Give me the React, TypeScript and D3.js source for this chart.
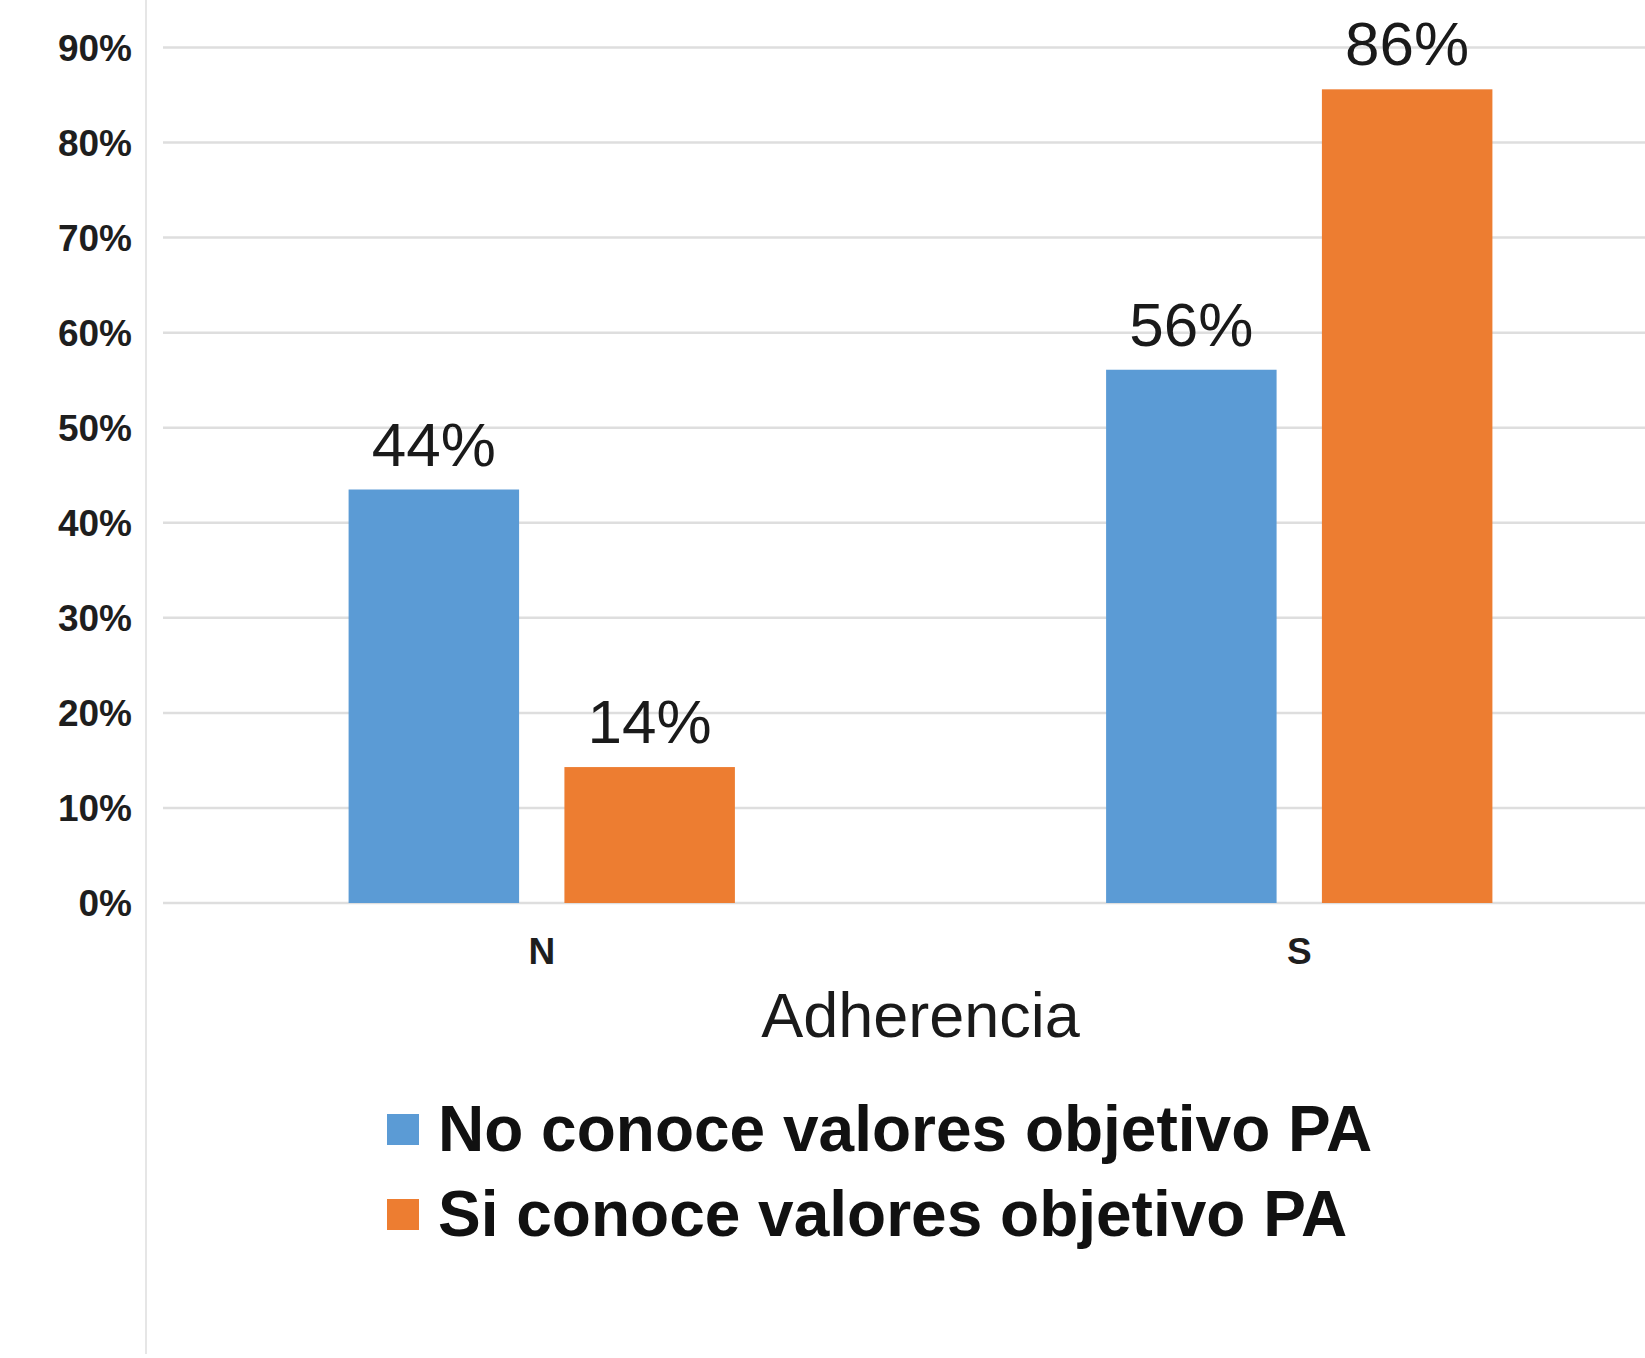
import React, { useEffect, useRef } from 'react'
import * as d3 from 'd3'

// categories on the x axis (Adherencia)
const categories = ['N', 'S']
// legend / series names
const seriesNames = ['No conoce valores objetivo PA', 'Si conoce valores objetivo PA']
// share of each group
const noConoce = [0.435, 0.561]
const siConoce = [0.143, 0.856]
const yTicks = [0, 0.1, 0.2, 0.3, 0.4, 0.5, 0.6, 0.7, 0.8, 0.9]

const colors = ['#5B9BD5', '#ED7D31']
const font = '"Liberation Sans", Arial, sans-serif'

const App = () => {
  const ref = useRef<SVGSVGElement>(null)

  useEffect(() => {
    const W = 1645, H = 1358
    const svg = d3.select(ref.current).attr('width', W).attr('height', H)
    svg.selectAll('*').remove()

    const left = 163, bottom = 903, top = 47.5
    const bandW = 757.5

    const x0 = d3.scaleBand<string>().domain(categories).range([left, left + bandW * categories.length]).padding(0)
    const x1 = d3.scaleBand<number>().domain([0, 1]).range([0, x0.bandwidth()])
      .paddingInner(0.21).paddingOuter(0.86)
    const y = d3.scaleLinear().domain([0, 0.9]).range([bottom, top])

    // left frame line
    svg.append('line')
      .attr('x1', 146).attr('x2', 146).attr('y1', 0).attr('y2', H - 4)
      .attr('stroke', '#e6e6e6').attr('stroke-width', 2)

    // gridlines
    svg.append('g').selectAll('line').data(yTicks).join('line')
      .attr('x1', left).attr('x2', W)
      .attr('y1', d => y(d)).attr('y2', d => y(d))
      .attr('stroke', '#dedede').attr('stroke-width', 2.5)

    // y tick labels
    svg.append('g').selectAll('text').data(yTicks).join('text')
      .attr('x', 132).attr('y', d => y(d)).attr('dy', '0.36em')
      .attr('text-anchor', 'end')
      .style('font-family', font).style('font-size', '37px').style('font-weight', 'bold')
      .attr('fill', '#1e1e1e')
      .text(d => d3.format('.0%')(d))

    // bars
    const rows = categories.map((c, i) => ({ c, vals: [noConoce[i], siConoce[i]] }))
    const groups = svg.append('g').selectAll('g').data(rows).join('g')
      .attr('transform', d => `translate(${x0(d.c)},0)`)

    groups.selectAll('rect').data(d => d.vals.map((v, k) => ({ v, k }))).join('rect')
      .attr('x', d => x1(d.k)!)
      .attr('y', d => y(d.v))
      .attr('width', x1.bandwidth())
      .attr('height', d => bottom - y(d.v))
      .attr('fill', d => colors[d.k])

    groups.selectAll('text').data(d => d.vals.map((v, k) => ({ v, k }))).join('text')
      .attr('x', d => x1(d.k)! + x1.bandwidth() / 2)
      .attr('y', d => y(d.v) - 24)
      .attr('text-anchor', 'middle')
      .style('font-family', font).style('font-size', '62px')
      .attr('fill', '#1a1a1a')
      .text(d => d3.format('.0%')(d.v))

    // x tick labels
    svg.append('g').selectAll('text').data(categories).join('text')
      .attr('x', d => x0(d)! + x0.bandwidth() / 2)
      .attr('y', 964)
      .attr('text-anchor', 'middle')
      .style('font-family', font).style('font-size', '37px').style('font-weight', 'bold')
      .attr('fill', '#1e1e1e')
      .text(d => d)

    // axis title
    svg.append('text')
      .attr('x', left + bandW).attr('y', 1037)
      .attr('text-anchor', 'middle')
      .style('font-family', font).style('font-size', '63px')
      .attr('fill', '#1a1a1a')
      .text('Adherencia')

    // legend
    const legend = svg.append('g').selectAll('g').data(seriesNames).join('g')
      .attr('transform', (d, i) => `translate(387, ${1151 + i * 85})`)
    legend.append('rect')
      .attr('x', 0).attr('y', -37).attr('width', 32).attr('height', 31)
      .attr('fill', (d, i) => colors[i])
    legend.append('text')
      .attr('x', 51).attr('y', 0)
      .style('font-family', font).style('font-size', '64px').style('font-weight', 'bold')
      .attr('fill', '#111')
      .text(d => d)
  }, [])

  return (
    <div style={{ position: 'absolute', left: 0, top: 0 }}>
      <svg ref={ref} style={{ display: 'block', background: '#fff' }}></svg>
    </div>
  )
}

export default App
